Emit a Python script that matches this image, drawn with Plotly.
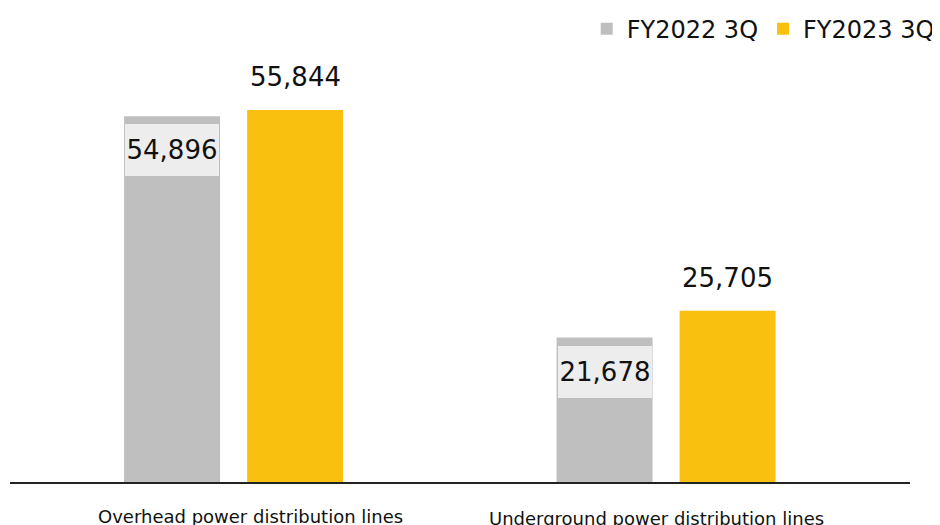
import plotly.graph_objects as go

categories = ["Overhead power distribution lines", "Underground power distribution lines"]
series_names = ["FY2022 3Q", "FY2023 3Q"]
fy2022 = [54896, 21678]
fy2023 = [55844, 25705]

GRAY = "#BFBFBF"
YELLOW = "#FAC00F"
FONT = "DejaVu Sans"

fig = go.Figure()
fig.add_trace(go.Bar(x=categories, y=fy2022, name=series_names[0], marker=dict(color=GRAY, line=dict(width=0))))
fig.add_trace(go.Bar(x=categories, y=fy2023, name=series_names[1], marker=dict(color=YELLOW, line=dict(width=0))))

annotations = []
half = 0.142
for i, v in enumerate(fy2022):
    annotations.append(dict(
        x=i - half, y=v, xref="x", yref="y", text=f"{v:,}", showarrow=False,
        yanchor="top", xanchor="center", yshift=-8, width=94, height=52,
        bgcolor="#EDEDED", borderpad=0, borderwidth=0,
        font=dict(family=FONT, size=26, color="#111111"),
    ))
for i, v in enumerate(fy2023):
    annotations.append(dict(
        x=i + half, y=v, xref="x", yref="y", text=f"{v:,}", showarrow=False,
        yanchor="bottom", xanchor="center", yshift=16,
        font=dict(family=FONT, size=26, color="#111111"),
    ))
label_x = [0.038, 0.977]
label_y = [-0.081, -0.086]
for i, c in enumerate(categories):
    annotations.append(dict(
        x=label_x[i], y=label_y[i], xref="x", yref="paper", text=c, showarrow=False,
        yanchor="middle", xanchor="center",
        font=dict(family=FONT, size=18, color="#111111"),
    ))

# page body has an 8px default margin; the figure is sized to fit the window
fig.update_layout(
    width=932, height=517,
    margin=dict(l=2, r=30, t=52, b=43, autoexpand=False),
    paper_bgcolor="white", plot_bgcolor="white",
    barmode="group", bargap=0.431, bargroupgap=0.22,
    showlegend=True,
    legend=dict(orientation="h", x=1.033, xanchor="right", y=1.073, yanchor="middle",
                font=dict(family=FONT, size=24, color="#111111"),
                bgcolor="rgba(0,0,0,0)", itemwidth=30, traceorder="normal"),
    xaxis=dict(range=[-0.517, 1.564], showticklabels=False, ticks="", showgrid=False,
               showline=True, linecolor="#222222", linewidth=2, zeroline=False),
    yaxis=dict(range=[0, 63350], visible=False, showgrid=False, zeroline=False),
    annotations=annotations,
    font=dict(family=FONT),
)

fig.write_html("out.html")
